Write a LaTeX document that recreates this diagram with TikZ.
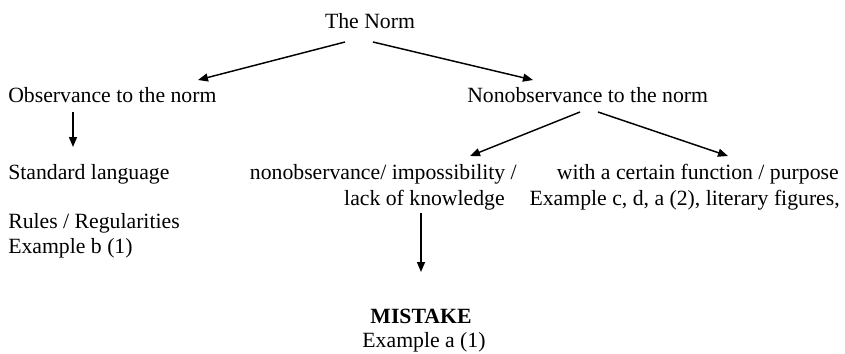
\documentclass[tikz,border=0pt]{standalone}
\usepackage{fontspec}
\setmainfont{Liberation Serif}
\usetikzlibrary{arrows.meta}
\begin{document}
\begin{tikzpicture}[x=0.75pt,y=-0.75pt,
  txt/.style={inner sep=0pt,font=\fontsize{16.3}{19.5}\selectfont},
  arr/.style={line width=1.1pt,-{Triangle[length=7.5pt,width=6pt]}}]
\useasboundingbox (0,0) rectangle (845,353);
\node[txt,anchor=base] (norm) at (370,29) {The Norm};
\node[txt,anchor=base west] (obs) at (8,103) {Observance to the norm};
\node[txt,anchor=base west] (nonobs) at (467,103) {Nonobservance to the norm};
\node[txt,anchor=base west] (std) at (8,179) {Standard language};
\node[txt,anchor=base west] (rules) at (8,228) {Rules / Regularities};
\node[txt,anchor=base west] (exb) at (8,253) {Example b (1)};
\node[txt,anchor=base east] (imp) at (517,179) {nonobservance/ impossibility /};
\node[txt,anchor=base east] (lack) at (505,205) {lack of knowledge};
\node[txt,anchor=base east] (func) at (839,179) {with a certain function / purpose};
\node[txt,anchor=base east] (exc) at (840,205) {Example c, d, a (2), literary figures,};
\node[txt,anchor=base,font=\fontsize{16.3}{19.5}\selectfont\bfseries] (mist) at (421,323) {MISTAKE};
\node[txt,anchor=base] (exa) at (424,347) {Example a (1)};
\draw[arr] ([shift={(-25,13)}]norm.base) -- ([shift={(190,-23)}]obs.base west);
\draw[arr] ([shift={(3,13)}]norm.base) -- ([shift={(66,-23)}]nonobs.base west);
\draw[arr] ([shift={(65,9)}]obs.base west) -- ([shift={(65,-32)}]std.base west);
\draw[arr] ([shift={(113,9)}]nonobs.base west) -- ([shift={(-47,-23)}]imp.base east);
\draw[arr] ([shift={(131,9)}]nonobs.base west) -- ([shift={(-111,-23)}]func.base east);
\draw[arr] ([shift={(-84,8)}]lack.base east) -- ([shift={(0,-51)}]mist.base);
\end{tikzpicture}
\end{document}
